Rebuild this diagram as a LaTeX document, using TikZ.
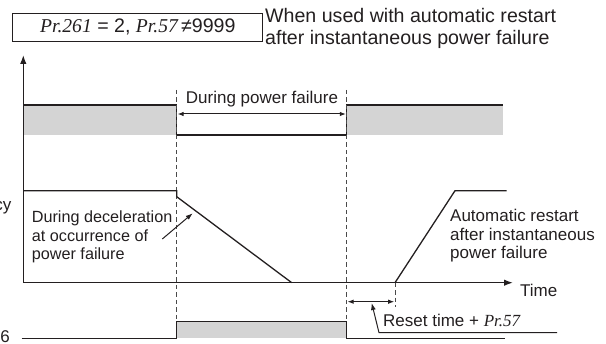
\documentclass[tikz,border=0pt]{standalone}
\usepackage{fontspec}
\setmainfont{Liberation Sans}
\newfontfamily\serifit{Liberation Serif}
\usetikzlibrary{arrows.meta}
\definecolor{Ink}{HTML}{231F20}
\definecolor{Band}{HTML}{D4D4D4}
\definecolor{Guide}{HTML}{4A4A4A}
\newcommand{\prm}[1]{{\serifit\itshape Pr.#1}}
\tikzset{
  >=Latex,
  every node/.style={text=Ink, inner sep=0pt},
  trace/.style={draw=Ink, line width=1.3pt},
  guide/.style={draw=Guide, line width=0.8pt, dash pattern=on 4.5pt off 3pt},
  band/.style={fill=Band},
  label/.style={font=\fontsize{17}{18.5}\selectfont, align=left},
  head/.style={font=\fontsize{19.6}{22}\selectfont, align=left},
  tip/.style={-{Latex[length=7pt,width=5pt]}, draw=Ink, line width=1pt},
  span/.style={{Latex[length=6pt,width=4.5pt]}-{Latex[length=6pt,width=4.5pt]}, draw=Ink, line width=1pt},
}

\begin{document}
\begin{tikzpicture}[x=1pt,y=-1pt]
  \useasboundingbox (0,0) rectangle (606,344);
  \clip (0,0) rectangle (606,344);

  % Condition box and its note.
  \node[draw=Ink, line width=0.9pt, minimum width=250pt, minimum height=28pt,
    font=\fontsize{19.6}{22}\selectfont] (cond) at (137.8,27.3)
    {\prm{261} = 2, \prm{57}\,≠9999};
  \node[head, anchor=west] (when) at (265,28)
    {When used with automatic restart\\after instantaneous power failure};

  % Key instants.
  \coordinate (org) at (23.3,282.7);
  \coordinate (yend) at (23.3,55);
  \coordinate (tend) at (513,282.7);
  \coordinate (fail) at (176.7,0);
  \coordinate (back) at (346.7,0);
  \coordinate (rest) at (395,0);

  % Power supply state.
  \fill[band] (23.3,105) rectangle (176.7,135);
  \fill[band] (346.7,105) rectangle (502.7,135);
  \draw[trace] (23.3,105) -- (176.7,105) -- (176.7,135) -- (346.7,135)
    -- (346.7,105) -- (502.7,105);

  % Guide lines.
  \draw[guide] (fail |- 0,90) -- (fail |- 0,321.7);
  \draw[guide] (back |- 0,90) -- (back |- 0,321.7);
  \draw[guide] (rest |- org) -- (rest |- 0,307);

  \node[label] (pf) at (262,99) {During power failure};
  \draw[span] (177.6,114) -- (345.8,114);

  % Axes.
  \draw[trace, -{Latex[length=9pt,width=6.5pt]}] (org) -- (yend);
  \draw[trace, -{Latex[length=9pt,width=6.5pt]}] (org) -- (tend);
  \node[label, anchor=west] (time) at (520,290) {Time};
  \node[label, anchor=east] (freq) at (11.7,206) {Output frequency};

  % Output frequency.
  \draw[trace] (23.3,190.7) -- (176.7,190.7) -- (176.7,196.7) -- (291.7,282.7);
  \draw[trace] (rest |- org) -- (455,190.7) -- (506.7,190.7);

  \node[label, font=\fontsize{16.2}{18.5}\selectfont, anchor=west] (decel)
    at (31.7,237) {During deceleration\\at occurrence of\\power failure};
  \draw[tip] (162.3,239) -- (192.7,213.3);
  \node[label, anchor=west] (auto) at (450,236)
    {Automatic restart\\after instantaneous\\power failure};

  % Reset time.
  \draw[span] (347.6,301.7) -- (394.2,301.7);
  \node[label, anchor=west] (reset) at (383,320) {Reset time + \prm{57}};
  \draw[tip] (557,332.7) -- (379,332.7) -- (371.7,303);

  % Signal output.
  \fill[band] (176.7,321.7) rectangle (346.7,338.3);
  \draw[trace] (21.7,338.3) -- (176.7,338.3) -- (176.7,321.7) -- (346.7,321.7)
    -- (346.7,338.3) -- (505,338.3);
  \node[label, anchor=east] (sig) at (10,336.5) {Y46};
\end{tikzpicture}
\end{document}
